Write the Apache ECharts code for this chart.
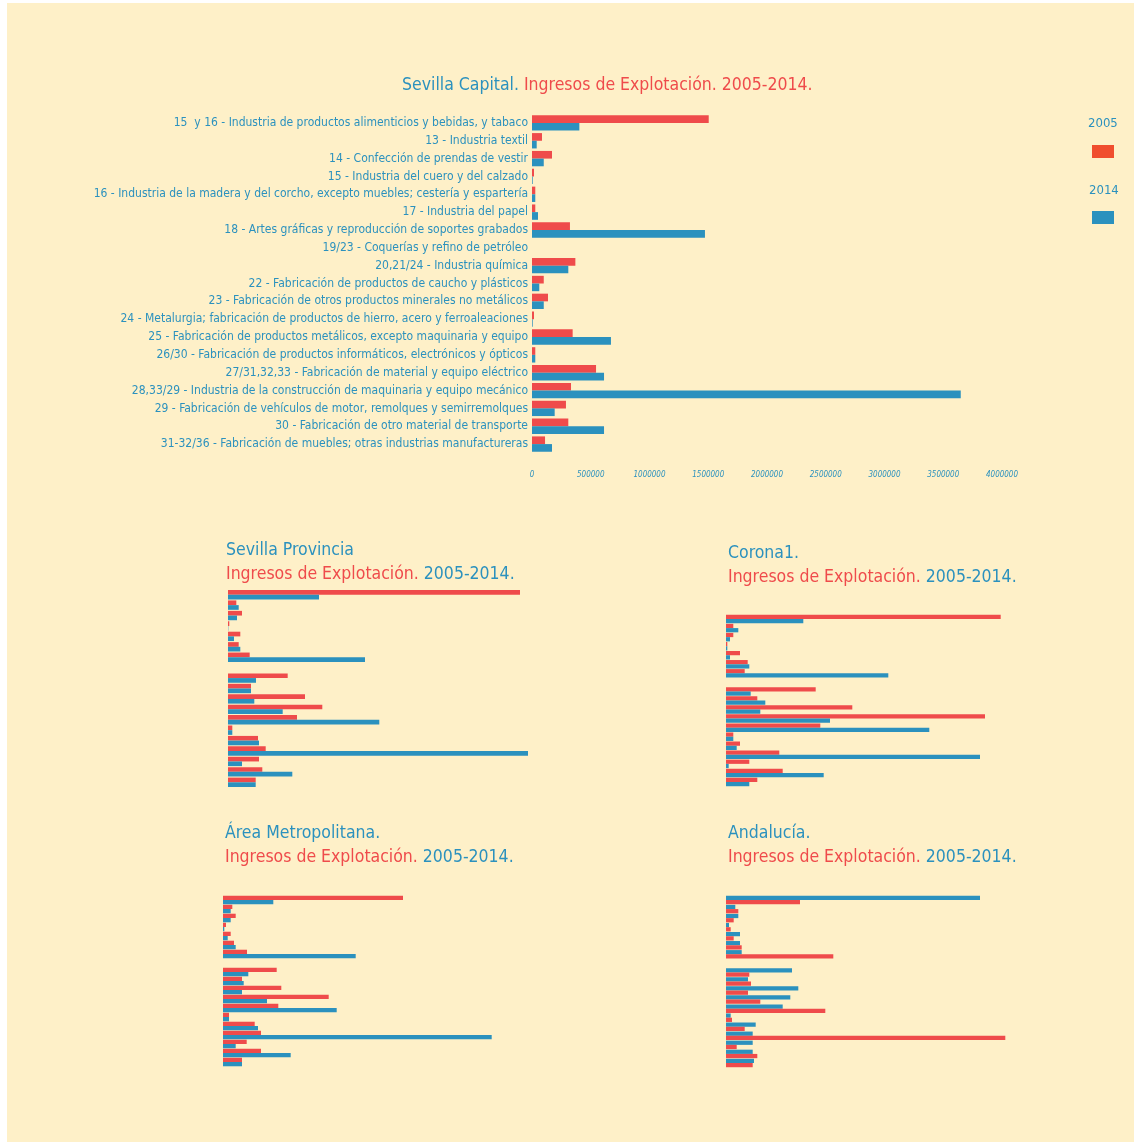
<!DOCTYPE html>
<html>
<head>
<meta charset="utf-8">
<script src="https://cdn.jsdelivr.net/npm/echarts@6/dist/echarts.min.js"></script>
<style>
  html, body { margin: 0; padding: 0; background: #ffffff; }
  #fondo { position: absolute; left: 7px; top: 3px; width: 1127px; height: 1139px; background: #fef0c8; }
  #mychart { position: absolute; left: 0; top: 0; width: 1134px; height: 1144px; }
</style>
</head>
<body>
<div id="fondo"></div>
<div id="mychart"></div>
<script>
// categorias (CNAE)
const categorias = [
  '15  y 16 - Industria de productos alimenticios y bebidas, y tabaco',
  '13 - Industria textil',
  '14 - Confección de prendas de vestir',
  '15 - Industria del cuero y del calzado',
  '16 - Industria de la madera y del corcho, excepto muebles; cestería y espartería',
  '17 - Industria del papel',
  '18 - Artes gráficas y reproducción de soportes grabados',
  '19/23 - Coquerías y refino de petróleo',
  '20,21/24 - Industria química',
  '22 - Fabricación de productos de caucho y plásticos',
  '23 - Fabricación de otros productos minerales no metálicos',
  '24 - Metalurgia; fabricación de productos de hierro, acero y ferroaleaciones',
  '25 - Fabricación de productos metálicos, excepto maquinaria y equipo',
  '26/30 - Fabricación de productos informáticos, electrónicos y ópticos',
  '27/31,32,33 - Fabricación de material y equipo eléctrico',
  '28,33/29 - Industria de la construcción de maquinaria y equipo mecánico',
  '29 - Fabricación de vehículos de motor, remolques y semirremolques',
  '30 - Fabricación de otro material de transporte',
  '31-32/36 - Fabricación de muebles; otras industrias manufactureras'
];

// Sevilla Capital
const capital2005 = [1504000, 85000, 170000, 17000, 28000, 28000, 323000, 0, 369000, 100000, 136000, 17000, 346000, 28000, 545000, 332000, 289000, 309000, 111000];
const capital2014 = [403000, 40000, 100000, 6000, 28000, 51000, 1472000, 0, 309000, 62000, 100000, 6000, 672000, 28000, 613000, 3649000, 193000, 613000, 170000];
const capitalTicks = [0, 500000, 1000000, 1500000, 2000000, 2500000, 3000000, 3500000, 4000000];

// Sevilla Provincia
const provincia2005 = [2920000, 83000, 140000, 13000, 123000, 107000, 217000, 0, 597000, 230000, 770000, 943000, 690000, 43000, 300000, 377000, 310000, 343000, 277000];
const provincia2014 = [910000, 107000, 90000, 3000, 60000, 123000, 1370000, 0, 280000, 230000, 263000, 547000, 1513000, 43000, 310000, 3000000, 140000, 643000, 277000];

// Corona1
const corona2005 = [2747000, 73000, 73000, 13000, 140000, 217000, 187000, 0, 897000, 313000, 1263000, 2590000, 943000, 73000, 140000, 533000, 233000, 567000, 313000];
const corona2014 = [773000, 123000, 40000, 13000, 40000, 233000, 1623000, 0, 247000, 393000, 343000, 1040000, 2033000, 73000, 107000, 2540000, 27000, 977000, 233000];

// Área Metropolitana
const area2005 = [1800000, 93000, 127000, 30000, 77000, 110000, 240000, 0, 537000, 190000, 583000, 1057000, 553000, 60000, 317000, 380000, 237000, 380000, 190000];
const area2014 = [503000, 77000, 77000, 13000, 47000, 127000, 1327000, 0, 253000, 207000, 190000, 440000, 1137000, 60000, 350000, 2687000, 127000, 677000, 190000];

// Andalucía (aquí la barra de arriba sale azul y la de abajo roja)
const andaluciaAzul = [2540000, 93000, 123000, 30000, 140000, 140000, 157000, 0, 660000, 220000, 723000, 643000, 567000, 47000, 297000, 267000, 267000, 267000, 280000];
const andaluciaRojo = [740000, 123000, 77000, 47000, 77000, 157000, 1073000, 0, 233000, 250000, 220000, 343000, 993000, 60000, 187000, 2793000, 107000, 313000, 267000];

const ROJO = '#ef4b4b';
const AZUL = '#2b91be';
const FUENTE = "'Liberation Sans Narrow', 'DejaVu Sans Condensed', sans-serif";

const richTitulo = {
  b: { color: AZUL, fontSize: 17.5, fontWeight: 'normal', fontFamily: FUENTE, lineHeight: 24 },
  r: { color: ROJO, fontSize: 17.5, fontWeight: 'normal', fontFamily: FUENTE, lineHeight: 24 }
};

function tituloPeq(nombre, left, top) {
  return {
    text: '{b|' + nombre + '}\n{r|Ingresos de Explotación.} {b|2005-2014.}',
    left: left, top: top, padding: 0,
    textStyle: { rich: richTitulo }
  };
}

// ejes ocultos de los graficos pequeños
function ejeX(i) {
  return { gridIndex: i, type: 'value', min: 0, max: 3000000, show: false };
}
function ejeY(i) {
  return { gridIndex: i, type: 'category', data: categorias, inverse: true, show: false };
}
function barras(nombre, datos, color, i, gap) {
  return {
    name: nombre, type: 'bar', data: datos, xAxisIndex: i, yAxisIndex: i,
    barGap: '0%', barCategoryGap: gap,
    itemStyle: { color: color },
    animation: false
  };
}

const option = {
  animation: false,
  title: [
    {
      text: '{b|Sevilla Capital.} {r|Ingresos de Explotación. 2005-2014.}',
      left: 402, top: 73, padding: 0,
      textStyle: { rich: richTitulo }
    },
    { text: '2005', left: 1088, top: 117, padding: 0, textStyle: { color: AZUL, fontSize: 13, fontWeight: 'normal', fontFamily: FUENTE } },
    { text: '2014', left: 1089, top: 184, padding: 0, textStyle: { color: AZUL, fontSize: 13, fontWeight: 'normal', fontFamily: FUENTE } },
    tituloPeq('Sevilla Provincia', 226, 538),
    tituloPeq('Corona1.', 728, 541),
    tituloPeq('Área Metropolitana.', 225, 821),
    tituloPeq('Andalucía.', 728, 821)
  ],
  legend: {
    orient: 'vertical', left: 1087, top: 140,
    itemWidth: 22, itemHeight: 13, itemGap: 53,
    icon: 'rect',
    formatter: () => '',
    data: [
      { name: '2005', itemStyle: { color: '#f04e2e' } },
      { name: '2014', itemStyle: { color: AZUL } }
    ]
  },
  grid: [
    { left: 532, top: 114, width: 470, height: 339 },
    { left: 228, top: 589.5, width: 300, height: 198 },
    { left: 726, top: 614.5, width: 300, height: 172 },
    { left: 223, top: 895.5, width: 300, height: 171 },
    { left: 726, top: 895.5, width: 300, height: 172 }
  ],
  xAxis: [
    {
      gridIndex: 0, type: 'value', min: capitalTicks[0], max: capitalTicks[capitalTicks.length - 1],
      interval: capitalTicks[1] - capitalTicks[0],
      axisLine: { show: false }, axisTick: { show: false }, splitLine: { show: false },
      axisLabel: { color: AZUL, fontSize: 8, fontStyle: 'italic', fontFamily: FUENTE, margin: 18, formatter: v => String(v) }
    },
    ejeX(1), ejeX(2), ejeX(3), ejeX(4)
  ],
  yAxis: [
    {
      gridIndex: 0, type: 'category', data: categorias, inverse: true,
      axisLine: { show: false }, axisTick: { show: false }, splitLine: { show: false },
      axisLabel: { color: AZUL, fontSize: 12, fontFamily: FUENTE, margin: 4, interval: 0 }
    },
    ejeY(1), ejeY(2), ejeY(3), ejeY(4)
  ],
  series: [
    barras('2005', capital2005, ROJO, 0, '14%'),
    barras('2014', capital2014, AZUL, 0, '14%'),
    barras('2005', provincia2005, ROJO, 1, '10%'),
    barras('2014', provincia2014, AZUL, 1, '10%'),
    barras('2005', corona2005, ROJO, 2, '6%'),
    barras('2014', corona2014, AZUL, 2, '6%'),
    barras('2005', area2005, ROJO, 3, '5%'),
    barras('2014', area2014, AZUL, 3, '5%'),
    barras('2014', andaluciaAzul, AZUL, 4, '6%'),
    barras('2005', andaluciaRojo, ROJO, 4, '6%')
  ]
};

let myChart = echarts.init(document.getElementById('mychart'));
myChart.setOption(option);
window.addEventListener('resize', () => {
  myChart.resize();
});
</script>
</body>
</html>
